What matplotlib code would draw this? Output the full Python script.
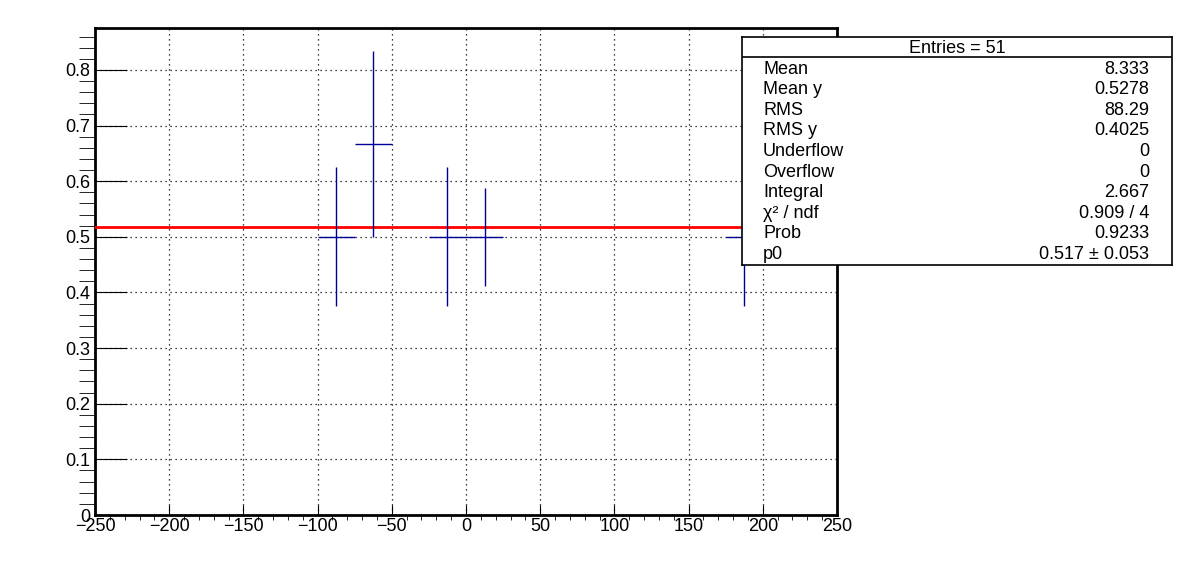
import numpy as np
import matplotlib; matplotlib.use("Agg"); import matplotlib.pyplot as plt
from matplotlib.ticker import MultipleLocator

plt.rcParams['font.family'] = ['Liberation Sans', 'DejaVu Sans']

# profile bins (centre, half width, mean y, error)
x_centers = [-87.5, -62.5, -12.5, 12.5, 187.5]
x_halfw = [12.5, 12.5, 12.5, 12.5, 12.5]
y_means = [0.5, 0.6667, 0.5, 0.5, 0.5]
y_errs = [0.125, 0.1667, 0.125, 0.0884, 0.125]

# pol0 fit
p0 = 0.517
fit_range = [-250, 250]

stat_header = "Entries = 51"
stat_labels = ["Mean", "Mean y", "RMS", "RMS y", "Underflow", "Overflow",
               "Integral", "χ² / ndf", "Prob", "p0"]
stat_values = ["8.333", "0.5278", "88.29", "0.4025", "0", "0",
               "2.667", "0.909 / 4", "0.9233", "0.517 ± 0.053"]

W, H = 1196, 572
fig = plt.figure(figsize=(W/100, H/100), dpi=100)
ax = fig.add_axes([95/W, 1-515/H, (837-95)/W, (515-28)/H])

ax.grid(True, which="major", color="black", ls=(0, (1, 3)), lw=0.9)
ax.set_axisbelow(True)
ax.plot(fit_range, [p0, p0], color="#ff0000", lw=2.0, zorder=3)
ax.errorbar(x_centers, y_means, xerr=x_halfw, yerr=y_errs, fmt="none",
            ecolor="#000099", elinewidth=1.0, capsize=0, zorder=4)

ax.set_xlim(-250, 250); ax.set_ylim(0, 0.8755)
ax.xaxis.set_major_locator(MultipleLocator(50)); ax.xaxis.set_minor_locator(MultipleLocator(10))
ax.yaxis.set_major_locator(MultipleLocator(0.1)); ax.yaxis.set_minor_locator(MultipleLocator(0.02))
ax.tick_params(axis="both", direction="in", labelsize=13, width=0.8, colors="black")
ax.tick_params(axis="x", which="major", length=7, pad=2.5)
ax.tick_params(axis="x", which="minor", length=3.6)
ax.tick_params(axis="y", which="major", length=23, pad=3.5)
ax.tick_params(axis="y", which="minor", length=11.5)
ax.set_yticks(np.arange(0, 0.81, 0.1))
ax.set_yticklabels(["0"] + [f"{v:.1f}" for v in np.arange(0.1, 0.81, 0.1)])
for s in ax.spines.values():
    s.set_linewidth(2.0)

# statistics box
sb = fig.add_axes([742/W, 1-265/H, (1172-742)/W, (265-37)/H])
sb.set_xlim(0, 1); sb.set_ylim(0, 228)
sb.set_xticks([]); sb.set_yticks([])
for s in sb.spines.values():
    s.set_linewidth(1.2)
sb.axhline(228-20.3, color="black", lw=1.2)
sb.text(0.5, 228-11, stat_header, ha="center", va="center", fontsize=13)
for i, (lab, val) in enumerate(zip(stat_labels, stat_values)):
    yy = 228 - (32 + 20.6*i)
    sb.text(0.049, yy, lab, ha="left", va="center", fontsize=13)
    sb.text(0.9465, yy, val, ha="right", va="center", fontsize=13)

fig.savefig("out.png", dpi=100)
